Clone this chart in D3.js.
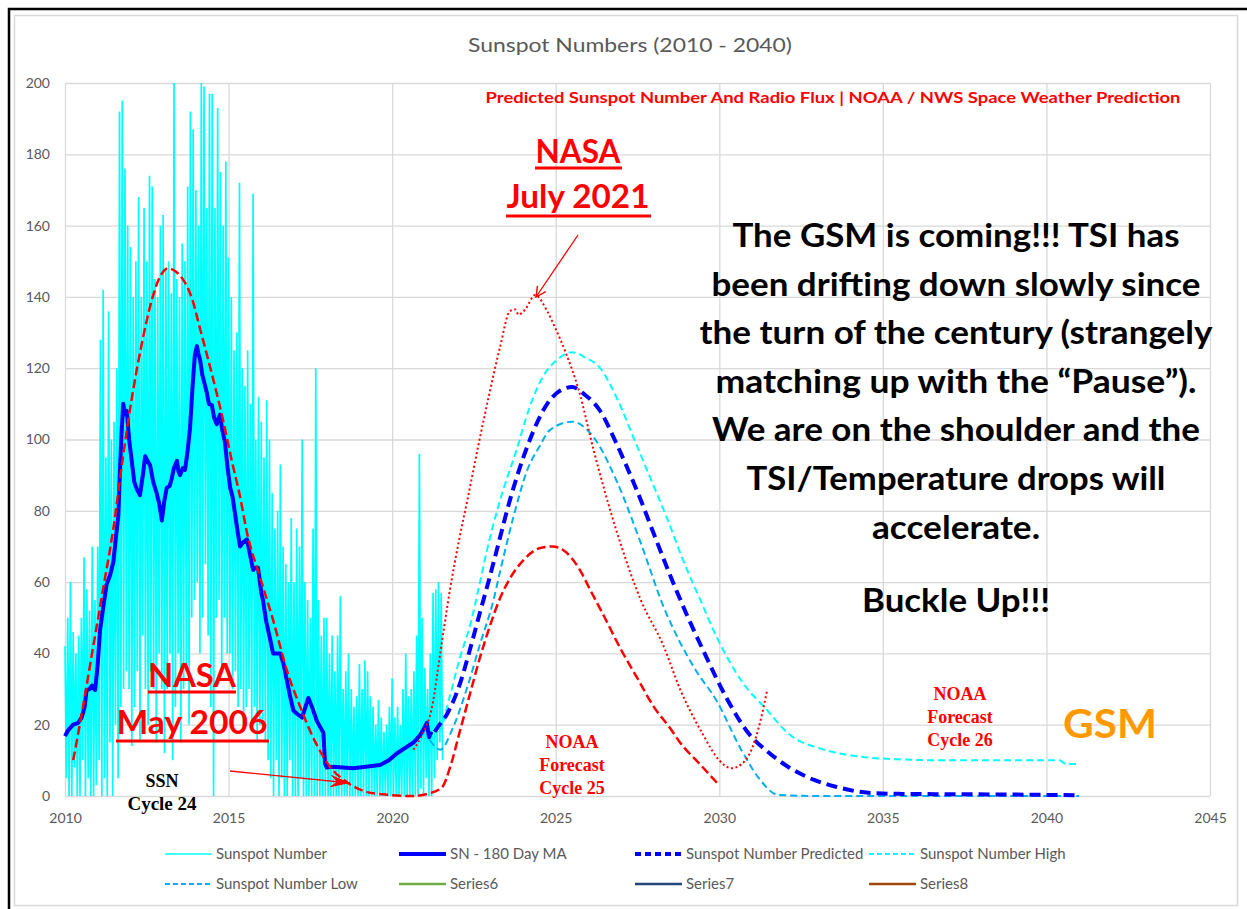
<!DOCTYPE html>
<html>
<head>
<meta charset="utf-8">
<script src="https://cdn.jsdelivr.net/npm/d3@7"></script>
<style>
  body { margin: 0; background: #fff; }
  svg { display: block; }
  .tick text { font-family: Lato, "Open Sans", sans-serif; font-size: 14px; fill: #595959; }
</style>
</head>
<body>
<script>
// ---- data ----
var xTicks = [2010, 2015, 2020, 2025, 2030, 2035, 2040, 2045];
var yTicks = [0, 20, 40, 60, 80, 100, 120, 140, 160, 180, 200];

// daily sunspot number, summarised as monthly max / min from Jan 2010
var ssnStart = 2010;
var ssnMax = [
  42, 50, 60, 46, 40, 45, 50, 67, 58, 52, 70, 55,
  70, 128, 142, 95, 136, 100, 105, 120, 192, 195, 176, 160,
  154, 140, 150, 168, 140, 165, 150, 174, 171, 145, 140, 160,
  163, 148, 150, 141, 200, 145, 140, 155, 150, 171, 192, 187,
  170, 160, 200, 199, 165, 197, 197, 165, 193, 175, 160, 178,
  151, 140, 125, 130, 172, 120, 115, 125, 110, 169, 100, 112,
  105, 95, 111, 100, 85, 75, 80, 93, 70, 65, 60, 78,
  60, 75, 70, 100, 60, 55, 50, 75, 120, 55, 45, 50,
  50, 40, 45, 35, 45, 56, 30, 35, 40, 30, 25, 28,
  37, 30, 38, 35, 28, 25, 20, 27, 22, 18, 20, 25,
  33, 22, 25, 20, 30, 40, 28, 30, 35, 45, 96, 50,
  36, 30, 40, 57, 58, 60, 57
];
var ssnMin = [
  5, 0, 0, 8, 0, 0, 10, 0, 5, 0, 0, 3,
  10, 0, 5, 0, 15, 0, 20, 5, 25, 30, 35, 30,
  14, 25, 35, 15, 45, 30, 20, 35, 30, 15, 40, 30,
  12, 30, 40, 10, 25, 40, 15, 30, 35, 20, 50, 55,
  60, 40, 50, 65, 45, 25, 0, 50, 55, 35, 50, 40,
  40, 30, 35, 25, 30, 20, 25, 30, 20, 25, 15, 20,
  20, 15, 10, 5, 0, 10, 0, 5, 0, 0, 10, 0,
  0, 0, 5, 0, 0, 0, 0, 0, 0, 0, 0, 0,
  0, 0, 0, 0, 0, 0, 0, 0, 0, 0, 0, 0,
  0, 0, 0, 0, 0, 0, 0, 0, 0, 0, 0, 0,
  0, 0, 0, 0, 0, 0, 0, 0, 0, 0, 2, 0,
  5, 0, 0, 5, 10, 15, 10
];

// SN - 180 day moving average
var maYears = [2010.0, 2010.1, 2010.25, 2010.4, 2010.51, 2010.6, 2010.66, 2010.75, 2010.82, 2010.92,
  2011.0, 2011.07, 2011.17, 2011.27, 2011.38, 2011.48, 2011.55, 2011.63, 2011.68, 2011.73, 2011.78, 2011.84, 2011.89, 2011.96,
  2012.04, 2012.12, 2012.2, 2012.29, 2012.38, 2012.45, 2012.52, 2012.6, 2012.7, 2012.8, 2012.88, 2012.96,
  2013.04, 2013.11, 2013.2, 2013.26, 2013.33, 2013.42, 2013.47, 2013.52, 2013.6, 2013.67, 2013.75, 2013.82, 2013.9, 2013.97,
  2014.03, 2014.08, 2014.13, 2014.2, 2014.33, 2014.4, 2014.49, 2014.56, 2014.64, 2014.69, 2014.74, 2014.8, 2014.89, 2014.97,
  2015.05, 2015.12, 2015.2, 2015.28, 2015.35, 2015.43, 2015.56, 2015.65, 2015.75, 2015.82, 2015.9,
  2016.0, 2016.05, 2016.15, 2016.27, 2016.36, 2016.47, 2016.58, 2016.68, 2016.78, 2016.88, 2016.98,
  2017.1, 2017.25, 2017.35, 2017.44, 2017.55, 2017.7, 2017.9, 2017.95, 2018.0, 2018.2, 2018.5, 2018.8,
  2019.2, 2019.63, 2019.9, 2020.15, 2020.4, 2020.65, 2020.85, 2020.96, 2021.06, 2021.1, 2021.13, 2021.2];
var maValues = [16.8, 18.5, 20, 20.5, 22, 25, 29.7, 30, 31, 29.7,
  37, 46.4, 53, 59.3, 62, 65.7, 72, 78.6, 91.5, 102, 110, 107, 108, 100,
  94, 88, 86, 84.4, 90, 95.3, 94, 92.8, 88, 85, 82, 77.3,
  83, 86.4, 87, 89, 92, 94, 91, 90, 92, 91.5, 97, 103, 115, 123.7,
  126.2, 124, 122.3, 118, 113.3, 110, 109.6, 106, 104.3, 106, 107, 103, 99.2, 92,
  86.4, 84, 79, 74, 70, 71, 72, 68, 63.4, 64, 64,
  57, 55, 49, 44, 40, 40, 40, 37, 32.5, 28, 24,
  23, 22, 25, 27.5, 25, 21, 17.7, 9, 8, 8.2, 8, 7.8,
  8.2, 8.7, 10, 12, 13.5, 15, 17, 18.7, 20.5, 18, 16.5, 18];

// NASA May 2006 cycle 24 prediction joined with the NOAA cycle 25 forecast (red dashed)
var nasa06Years = [2010.25, 2010.55, 2010.86, 2011.16, 2011.47, 2011.77, 2012.05, 2012.35, 2012.65, 2012.9,
  2013.15, 2013.4, 2013.6, 2013.9, 2014.13, 2014.5, 2014.83, 2015.1, 2015.35, 2015.56, 2015.96,
  2016.36, 2016.78, 2017.19, 2017.58, 2018.1, 2018.6, 2019.2, 2019.9, 2020.6, 2021.16, 2021.53,
  2021.77, 2022.08, 2022.39, 2022.69, 2023.0, 2023.3, 2023.6, 2024.0, 2024.5, 2024.9, 2025.3,
  2025.7, 2026.1, 2026.5, 2026.97, 2027.5, 2028.0, 2028.5, 2028.8, 2029.4, 2030.0];
var nasa06Values = [10, 25, 41.8, 57.8, 74.6, 95, 112, 127, 139, 145.6,
  148, 147, 145, 139, 131, 118, 105.5, 94, 84, 74, 61.4,
  49.4, 35.3, 25, 16.5, 8.2, 4, 1.2, 0.3, 0, 0.8, 2.5,
  8, 18.5, 29, 39, 48, 55.5, 61, 66, 69.5, 70, 68.5,
  64, 57, 50, 41.5, 33, 25, 19, 15, 9, 3];

// NASA July 2021 prediction (red dotted)
var nasa21Years = [2020.65, 2020.95, 2021.22, 2021.47, 2021.77, 2022.05, 2022.3, 2022.65, 2023.0, 2023.3,
  2023.6, 2023.77, 2023.86, 2024.07, 2024.37, 2024.74, 2025.0, 2025.3, 2025.7, 2026.16, 2026.87,
  2027.6, 2028.3, 2028.8, 2029.48, 2030.0, 2030.37, 2030.8, 2031.2, 2031.47];
var nasa21Values = [13, 17.7, 25, 40, 58, 72, 83, 99, 114, 126,
  136, 136.5, 135, 136.5, 140.5, 136, 131, 124.5, 114, 97, 74,
  55, 42, 30, 17.6, 10, 7.8, 10, 19, 30];

// Sunspot Number Predicted / High / Low
var predYears = [2021.3, 2021.4, 2021.68, 2022.08, 2022.4, 2022.7, 2022.9, 2023.2, 2023.6, 2024.13, 2024.74, 2025.1,
  2025.5, 2025.9, 2026.36, 2026.8, 2027.19, 2027.6, 2027.98, 2028.45, 2029.0, 2029.5, 2030.25, 2030.9,
  2031.47, 2032.1, 2032.9, 2033.56, 2034.56, 2035.5, 2037, 2039, 2041];
var predValues = [18, 19.4, 23, 31.7, 41.8, 52, 58.6, 69, 83, 98, 110, 113.5,
  114.7, 112.5, 108, 100, 92, 83, 74, 63, 51, 41, 27, 17.5,
  12.5, 8.2, 4.5, 2.6, 0.9, 0.6, 0.5, 0.4, 0.2];
var highYears = [2021.2, 2021.5, 2021.68, 2022.08, 2022.4, 2022.7, 2022.9, 2023.3, 2023.8, 2024.2, 2024.6, 2025.0,
  2025.5, 2025.9, 2026.36, 2026.9, 2027.37, 2027.9, 2028.4, 2028.9, 2029.42, 2029.9, 2030.7, 2031.47,
  2032.1, 2033.2, 2034.35, 2035.45, 2037, 2039, 2040.4, 2040.6, 2041.0];
var highValues = [15.7, 19, 25, 39, 48.5, 60.6, 69, 83, 97, 109, 117.5, 122,
  124.5, 123, 120, 111, 100.7, 89, 78, 66, 55, 45, 32, 24,
  17.6, 13, 11, 10.3, 10, 10, 10, 9, 9];
var lowYears = [2021.15, 2021.47, 2021.87, 2022.3, 2022.7, 2023.1, 2023.3, 2023.7, 2024.13, 2024.5, 2024.83,
  2025.5, 2026.15, 2026.88, 2027.6, 2028.3, 2028.75, 2029.3, 2029.9, 2030.67, 2031.25, 2031.8, 2033, 2041];
var lowValues = [15.7, 13, 19.4, 30.6, 43, 55, 63, 78, 91.4, 98, 102.7,
  105, 100.7, 88, 71, 53, 44, 35, 27, 13, 4.5, 0.3, 0, 0];

var legendLabels = ['Sunspot Number', 'SN - 180 Day MA', 'Sunspot Number Predicted', 'Sunspot Number High',
  'Sunspot Number Low', 'Series6', 'Series7', 'Series8'];

// ---- chart ----
var width = 1247, height = 909;
var svg = d3.select('body').append('svg')
    .attr('width', width)
    .attr('height', height);

svg.append('rect').attr('x', 0).attr('y', 0).attr('width', width).attr('height', height).attr('fill', '#fff');
// outer frame (black) and chart border (grey)
svg.append('rect').attr('x', 9).attr('y', 9).attr('width', 1260).attr('height', 920)
    .attr('fill', 'none').attr('stroke', '#000').attr('stroke-width', 2.5);
svg.append('rect').attr('x', 14.5).attr('y', 15.5).attr('width', 1223).attr('height', 890)
    .attr('fill', 'none').attr('stroke', '#d9d9d9').attr('stroke-width', 1.5);

var x = d3.scaleLinear().domain([2010, 2045]).range([65, 1210]);
var y = d3.scaleLinear().domain([0, 200]).range([796, 83]);

var sans = 'Lato, "Open Sans", sans-serif';
var serif = '"Liberation Serif", "DejaVu Serif", serif';

// grid + axes
var gy = svg.append('g')
    .attr('transform', 'translate(65,0)')
    .call(d3.axisLeft(y).tickValues(yTicks).tickSize(-(1210 - 65)).tickPadding(15));
var gx = svg.append('g')
    .attr('transform', 'translate(0,796)')
    .call(d3.axisBottom(x).tickValues(xTicks).tickFormat(d3.format('d')).tickSize(-(796 - 83)).tickPadding(17));
[gx, gy].forEach(function(g) {
  g.select('.domain').remove();
  g.selectAll('.tick line').attr('stroke', '#d9d9d9').attr('stroke-width', 1.3);
});

var plot = svg.append('g');

// daily sunspot number: zig-zag between monthly max and min
var ssnPts = [];
ssnMax.forEach(function(v, i) {
  ssnPts.push([ssnStart + i / 12, v]);
  ssnPts.push([ssnStart + (i + 0.5) / 12, ssnMin[i]]);
});
var lineXY = d3.line().x(d => x(d[0])).y(d => y(d[1]));
plot.append('path')
    .attr('d', lineXY(ssnPts))
    .attr('fill', 'none')
    .attr('stroke', '#00ffff')
    .attr('stroke-width', 1.7)
    .attr('stroke-linejoin', 'miter')
    .attr('stroke-miterlimit', 2);

function pairs(xs, ys) { return xs.map((d, i) => [d, ys[i]]); }
var smooth = d3.line().x(d => x(d[0])).y(d => y(d[1])).curve(d3.curveMonotoneX);

plot.append('path')
    .attr('d', lineXY(pairs(maYears, maValues)))
    .attr('fill', 'none').attr('stroke', '#0000ff').attr('stroke-width', 4)
    .attr('stroke-linejoin', 'round');

plot.append('path')
    .attr('d', smooth(pairs(highYears, highValues)))
    .attr('fill', 'none').attr('stroke', '#00ffff').attr('stroke-width', 2)
    .attr('stroke-dasharray', '7,4');
plot.append('path')
    .attr('d', smooth(pairs(lowYears, lowValues)))
    .attr('fill', 'none').attr('stroke', '#00b0f0').attr('stroke-width', 2)
    .attr('stroke-dasharray', '7,4');
plot.append('path')
    .attr('d', smooth(pairs(predYears, predValues)))
    .attr('fill', 'none').attr('stroke', '#0000ff').attr('stroke-width', 4)
    .attr('stroke-dasharray', '11,6');

plot.append('path')
    .attr('d', smooth(pairs(nasa06Years, nasa06Values)))
    .attr('fill', 'none').attr('stroke', '#ff0000').attr('stroke-width', 2.5)
    .attr('stroke-dasharray', '9,4');
plot.append('path')
    .attr('d', smooth(pairs(nasa21Years, nasa21Values)))
    .attr('fill', 'none').attr('stroke', '#ff0000').attr('stroke-width', 2)
    .attr('stroke-dasharray', '2,2.6');

// ---- titles and notes ----
function txt(s, px, py, opt) {
  var t = svg.append('text')
      .attr('x', px).attr('y', py)
      .attr('text-anchor', opt.anchor || 'middle')
      .style('font-family', opt.family || sans)
      .style('font-size', opt.size + 'px')
      .style('font-weight', opt.weight || 'normal')
      .style('fill', opt.color || '#000')
      .text(s);
  if (opt.len) t.attr('textLength', opt.len).attr('lengthAdjust', 'spacingAndGlyphs');
  return t;
}
function underline(x1, x2, yy) {
  svg.append('line').attr('x1', x1).attr('x2', x2).attr('y1', yy).attr('y2', yy)
      .attr('stroke', '#ff0000').attr('stroke-width', 3);
}

txt('Sunspot Numbers (2010 - 2040)', 630, 52, {size: 19, color: '#595959', len: 324});
txt('Predicted Sunspot Number And Radio Flux | NOAA / NWS Space Weather Prediction', 833, 103,
    {size: 15, weight: 'bold', color: '#ff0000', len: 695});

txt('NASA', 578, 163, {size: 33, weight: 'bold', color: '#ff0000', len: 85});
underline(535, 622, 168);
txt('July 2021', 578, 208, {size: 33, weight: 'bold', color: '#ff0000', len: 143});
underline(506, 651, 216);

txt('NASA', 192, 687, {size: 33, weight: 'bold', color: '#ff0000', len: 88});
underline(148, 236, 692);
txt('May 2006', 192, 734, {size: 33, weight: 'bold', color: '#ff0000', len: 151});
underline(116, 269, 741);

var body = [
  ['The GSM is coming!!! TSI has', 447],
  ['been drifting down slowly since', 489],
  ['the turn of the century (strangely', 513],
  ['matching up with the \u201cPause\u201d).', 481],
  ['We are on the shoulder and the', 488],
  ['TSI/Temperature drops will', 419],
  ['accelerate.', 168]
];
body.forEach(function(b, i) {
  txt(b[0], 956, 247 + i * 48.6, {size: 32, weight: 'bold', len: b[1]});
});
txt('Buckle Up!!!', 956, 612, {size: 32, weight: 'bold', len: 188});

txt('SSN', 162, 787, {size: 18, weight: 'bold', family: serif});
txt('Cycle 24', 162, 810, {size: 19, weight: 'bold', family: serif});

['NOAA', 'Forecast', 'Cycle 25'].forEach(function(s, i) {
  txt(s, 572, 748 + i * 23, {size: 18, weight: 'bold', family: serif, color: '#ff0000'});
});
['NOAA', 'Forecast', 'Cycle 26'].forEach(function(s, i) {
  txt(s, 960, 700 + i * 23, {size: 18, weight: 'bold', family: serif, color: '#ff0000'});
});
txt('GSM', 1110, 738, {size: 40, weight: 'bold', color: '#ff9900', len: 94});

// arrows
var defs = svg.append('defs');
defs.append('marker').attr('id', 'openhead')
    .attr('viewBox', '0 0 12 12').attr('refX', 11).attr('refY', 6)
    .attr('markerWidth', 12).attr('markerHeight', 12).attr('markerUnits', 'userSpaceOnUse')
    .attr('orient', 'auto')
  .append('path').attr('d', 'M1,1 L11,6 L1,11').attr('fill', 'none').attr('stroke', '#ff0000').attr('stroke-width', 1.4);
defs.append('marker').attr('id', 'barbhead')
    .attr('viewBox', '0 0 20 12').attr('refX', 19).attr('refY', 6)
    .attr('markerWidth', 22).attr('markerHeight', 13).attr('markerUnits', 'userSpaceOnUse')
    .attr('orient', 'auto')
  .append('path').attr('d', 'M0,0 L19,6 L0,12 L7,6 Z').attr('fill', '#ff0000');

svg.append('line').attr('x1', 578).attr('y1', 235).attr('x2', 536).attr('y2', 297)
    .attr('stroke', '#ff0000').attr('stroke-width', 1.3).attr('marker-end', 'url(#openhead)');
svg.append('line').attr('x1', 230).attr('y1', 771).attr('x2', 350).attr('y2', 783)
    .attr('stroke', '#ff0000').attr('stroke-width', 1.3).attr('marker-end', 'url(#barbhead)');

// ---- legend ----
var legendStyle = {
  'Sunspot Number': {c: '#00ffff', w: 1.5, d: null},
  'SN - 180 Day MA': {c: '#0000ff', w: 4, d: null},
  'Sunspot Number Predicted': {c: '#0000ff', w: 4, d: '6,4'},
  'Sunspot Number High': {c: '#00ffff', w: 2, d: '5,3'},
  'Sunspot Number Low': {c: '#00b0f0', w: 2, d: '5,3'},
  'Series6': {c: '#70ad47', w: 2.5, d: null},
  'Series7': {c: '#264478', w: 2.5, d: null},
  'Series8': {c: '#9e480e', w: 2.5, d: null}
};
var colX = [165, 399, 635, 869];
var rowY = [854, 884];
var lg = svg.append('g').selectAll('g').data(legendLabels).enter().append('g')
    .attr('transform', (d, i) => 'translate(' + colX[i % 4] + ',' + rowY[Math.floor(i / 4)] + ')');
lg.append('line').attr('x1', 0).attr('x2', 47).attr('y1', 0).attr('y2', 0)
    .attr('stroke', d => legendStyle[d].c)
    .attr('stroke-width', d => legendStyle[d].w)
    .attr('stroke-dasharray', d => legendStyle[d].d);
lg.append('text').attr('x', 51).attr('y', 5)
    .style('font-family', sans).style('font-size', '15px').style('fill', '#595959')
    .text(d => d);
</script>
</body>
</html>
